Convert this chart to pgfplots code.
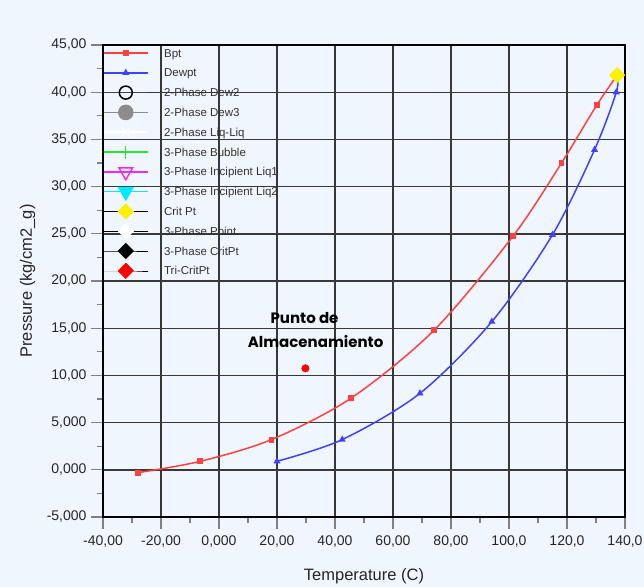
\documentclass[border=0pt]{standalone}
\usepackage{fontspec}
\setmainfont{Liberation Sans}
\newfontfamily\poppins{Poppins}
\usepackage{pgfplots}
\pgfplotsset{compat=1.18}
\definecolor{bg}{RGB}{240,246,253}
\definecolor{bptred}{RGB}{255,64,64}
\definecolor{dewblue}{RGB}{64,64,255}
\definecolor{dew2}{RGB}{70,70,70}
\definecolor{dew3}{RGB}{140,140,140}
\definecolor{bubgreen}{RGB}{40,230,40}
\definecolor{liq1}{RGB}{240,40,240}
\definecolor{liq2}{RGB}{0,235,255}
\definecolor{critY}{RGB}{255,240,0}
\definecolor{tick}{RGB}{80,80,80}
\begin{document}
\begin{tikzpicture}
\fill[bg] (0,0) rectangle (644bp,587bp);
\useasboundingbox (0,0) rectangle (644bp,587bp);
\begin{axis}[
  at={(103bp,70bp)}, anchor=south west,
  scale only axis, width=522bp, height=472bp,
  xmin=-40, xmax=140, ymin=-5, ymax=45,
  clip=false,
  axis background/.style={fill=bg},
  axis line style={black, line width=2.6bp},
  tick pos=left, tick align=outside,
  xtick={-40,-20,0,20,40,60,80,100,120,140},
  xticklabels={{-40,00},{-20,00},{0,000},{20,00},{40,00},{60,00},{80,00},{100,0},{120,0},{140,0}},
  ytick={-5,0,5,10,15,20,25,30,35,40,45},
  yticklabels={{-5,000},{0,000},{5,000},{10,00},{15,00},{20,00},{25,00},{30,00},{35,00},{40,00},{45,00}},
  minor x tick num=1, minor y tick num=1,
  major tick length=12bp, minor tick length=6.5bp,
  tick style={tick, line width=1.1bp},
  grid=major,
  major grid style={black!78, line width=1.4bp},
  ticklabel style={font=\fontsize{14bp}{16bp}\selectfont, text=black!85},
  xticklabel style={yshift=-3bp},
  yticklabel style={xshift=-1bp},
  xlabel={Temperature (C)},
  ylabel={Pressure (kg/cm2\_g)},
  label style={font=\fontsize{16.5bp}{19bp}\selectfont, text=black!85},
  xlabel style={at={(axis description cs:0.5,-0.125)}, anchor=center},
  ylabel style={at={(axis description cs:-0.1446,0.5)}, anchor=center},
  legend cell align=left,
  legend image code/.code={\draw[mark repeat=2,mark phase=2,#1] plot coordinates {(0bp,0bp)(22bp,0bp)(44bp,0bp)};},
  legend style={at={(0,1)}, anchor=north west, draw=none, fill=none,
    inner sep=0pt, outer sep=0pt, row sep=3.8bp, column sep=15.5bp,
    font=\fontsize{11.5bp}{13bp}\selectfont, text=black!80,
    nodes={inner sep=0pt, text height=12bp, text depth=4bp}},
]
% Bpt
\addplot[bptred, line width=1.5bp, smooth, tension=0.5, mark=square*, mark size=2.2bp, mark options={fill=bptred, draw=bptred}]
 coordinates {(-27.9,-0.3) (-6.4,0.9) (18.1,3.2) (45.6,7.6) (74.2,14.8) (101.5,24.8) (118.1,32.5) (130.2,38.6) (137.3,41.8)};
\addlegendentry{Bpt}
% Dewpt
\addplot[dewblue, line width=1.5bp, smooth, tension=0.5, mark=triangle*, mark size=2.6bp, mark options={fill=dewblue, draw=dewblue}]
 coordinates {(20.0,0.9) (42.5,3.2) (69.3,8.1) (94.1,15.7) (115.0,24.9) (129.5,33.9) (137.0,40.0) (137.3,41.8)};
\addlegendentry{Dewpt}
\addlegendimage{dew2, line width=1.6bp, mark=o, mark size=6.5bp, mark options={draw=black, line width=1.5bp}}
\addlegendentry{2-Phase Dew2}
\addlegendimage{dew3, line width=1.6bp, mark=*, mark size=7bp, mark options={fill=dew3, draw=dew3}}
\addlegendentry{2-Phase Dew3}
\addlegendimage{white, line width=1.6bp, mark=x, mark size=6.5bp, mark options={draw=white, line width=1.5bp}}
\addlegendentry{2-Phase Liq-Liq}
\addlegendimage{bubgreen, line width=1.6bp, mark=+, mark size=6.5bp, mark options={draw=bubgreen, line width=1.3bp}}
\addlegendentry{3-Phase Bubble}
\addlegendimage{liq1, line width=1.6bp, mark=triangle, mark size=8bp, mark options={draw=liq1, rotate=180, line width=1.4bp}}
\addlegendentry{3-Phase Incipient Liq1}
\addlegendimage{liq2, line width=1.6bp, mark=triangle*, mark size=8bp, mark options={draw=liq2, fill=liq2, rotate=180}}
\addlegendentry{3-Phase Incipient Liq2}
% Crit Pt
\addplot[draw=none, mark=square*, mark size=5.5bp, mark options={rotate=45, fill=critY, draw=critY}]
 coordinates {(137.3,41.8)};
\addlegendentry{Crit Pt}
\addlegendimage{draw=none, mark=square*, mark size=5.5bp, mark options={rotate=45, fill=white, draw=white}}
\addlegendentry{3-Phase Point}
\addlegendimage{draw=none, mark=square*, mark size=5.5bp, mark options={rotate=45, fill=black, draw=black}}
\addlegendentry{3-Phase CritPt}
\addlegendimage{draw=none, mark=square*, mark size=5.5bp, mark options={rotate=45, fill=red, draw=red}}
\addlegendentry{Tri-CritPt}
% Punto de almacenamiento
\addplot[forget plot, only marks, mark=*, mark size=3.8bp, mark options={fill=red, draw=red}]
 coordinates {(29.8,10.75)};
\node[font=\poppins\bfseries\fontsize{15bp}{18bp}\selectfont, anchor=center] at (axis cs:29.5,16.1) {Punto de};
\node[font=\poppins\bfseries\fontsize{15bp}{18bp}\selectfont, anchor=center] at (axis cs:33.3,13.6) {Almacenamiento};
\end{axis}
\end{tikzpicture}
\end{document}
